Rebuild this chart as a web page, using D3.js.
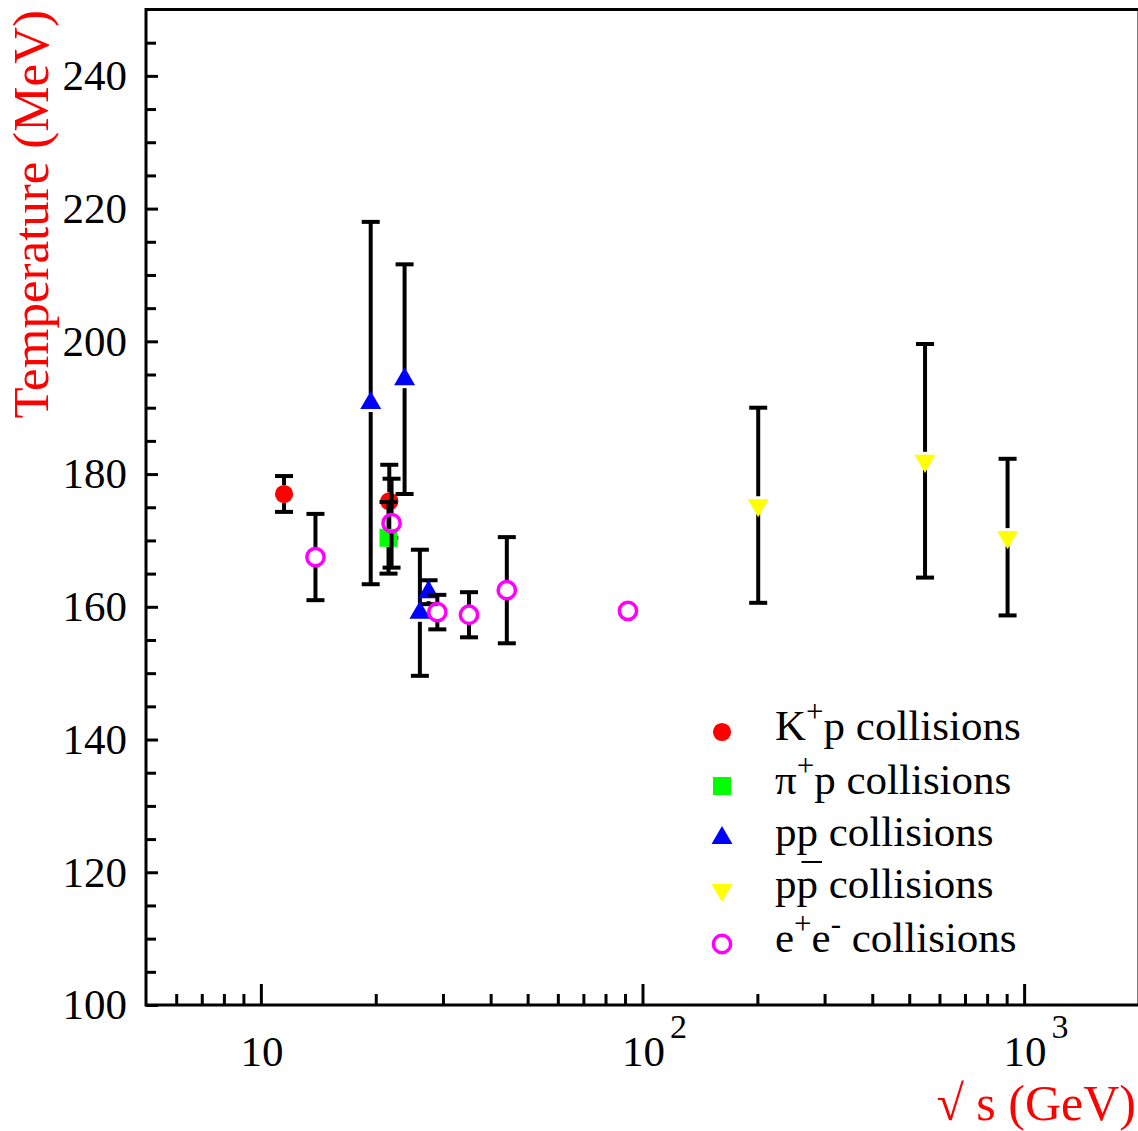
<!DOCTYPE html>
<html>
<head>
<meta charset="utf-8">
<script src="https://cdn.jsdelivr.net/npm/d3@7"></script>
<style>
  body { margin: 0; background: #fff; }
  text { font-family: "Liberation Serif", "Times New Roman", serif; }
</style>
</head>
<body>
<div id="canvas"></div>
<script>
// values
var kpX = [11.5, 21.7],
    kpY = [177.0, 175.9],
    kpErr = [2.7, 5.5];

var pipX = [21.6],
    pipY = [170.4],
    pipErr = [5.4];

var ppX = [19.4, 23.8, 26.1, 27.5],
    ppY = [190.7, 194.3, 159.1, 162.2],
    ppErr = [27.3, 17.3, 9.5, 1.8];

var pbarpX = [201, 550, 905],
    pbarpY = [175.3, 182.0, 170.5],
    pbarpErr = [14.7, 17.6, 11.8];

var eeX = [13.9, 22.0, 29.0, 35.1, 44.1, 91.6],
    eeY = [167.5, 172.6, 159.2, 158.8, 162.5, 159.4],
    eeErr = [6.5, 6.7, 2.6, 3.4, 8.0, 0];

var yMajor = [100, 120, 140, 160, 180, 200, 220, 240],
    yMinor = d3.range(105, 250, 5).filter(function(v) { return v % 20 !== 0; }),
    xMajor = [10, 100, 1000],
    xExp = ['', '2', '3'],
    xMinor = [6, 7, 8, 9, 20, 30, 40, 50, 60, 70, 80, 90, 200, 300, 400, 500, 600, 700, 800, 900];

(function(d3) {

  var canvas_d = {width: 1138, height: 1131},
      plot = {left: 146, right: 1139, top: 9.5, bottom: 1005},
      canvas, x, y;

  canvas = d3.select('#canvas').append('svg')
      .attr('width', canvas_d.width)
      .attr('height', canvas_d.height);

  x = d3.scaleLog().domain([5, 2000]).range([plot.left, plot.right]);
  y = d3.scaleLinear().domain([100, 250]).range([plot.bottom, plot.top]);

  /**
   * Axes: ticks point inwards.
   */
  var yMin = canvas.append('g').attr('transform', 'translate(' + plot.left + ',0)')
      .call(d3.axisLeft(y).tickValues(yMinor).tickSize(-10).tickFormat(''));
  var yMaj = canvas.append('g').attr('transform', 'translate(' + plot.left + ',0)')
      .call(d3.axisLeft(y).tickValues(yMajor).tickSize(-12).tickPadding(19).tickFormat(d3.format('d')));
  var xMin = canvas.append('g').attr('transform', 'translate(0,' + plot.bottom + ')')
      .call(d3.axisBottom(x).tickValues(xMinor).tickSize(-11).tickFormat(''));
  var xMaj = canvas.append('g').attr('transform', 'translate(0,' + plot.bottom + ')')
      .call(d3.axisBottom(x).tickValues(xMajor).tickSize(-21).tickPadding(30).tickFormat(function() { return ''; }));

  [yMin, yMaj, xMin, xMaj].forEach(function(g) {
    g.select('.domain').remove();
    g.selectAll('line').attr('stroke', '#000').attr('stroke-width', 3);
  });

  yMaj.selectAll('text')
      .attr('fill', '#000')
      .style('font-size', '43px');

  // 10, 10^2, 10^3 : "10" centred on the tick, exponent after it
  xMaj.selectAll('text').each(function(d, i) {
    var t = d3.select(this)
        .attr('fill', '#000')
        .attr('text-anchor', 'start')
        .attr('x', -21)
        .style('font-size', '43px');
    t.append('tspan').text('10');
    if (xExp[i]) {
      t.append('tspan').attr('dx', 5).attr('dy', -28).style('font-size', '34px').text(xExp[i]);
    }
  });

  // frame
  canvas.append('rect')
      .attr('x', plot.left)
      .attr('y', plot.top)
      .attr('width', plot.right - plot.left)
      .attr('height', plot.bottom - plot.top)
      .attr('fill', 'none')
      .attr('stroke', '#000')
      .attr('stroke-width', 3);

  /**
   * Axis titles.
   */
  canvas.append('text')
      .attr('transform', 'translate(48,10) rotate(-90)')
      .attr('text-anchor', 'end')
      .attr('fill', 'red')
      .style('font-size', '51px')
      .text('Temperature (MeV)');

  canvas.append('text')
      .attr('x', 1136)
      .attr('y', 1120)
      .attr('text-anchor', 'end')
      .attr('fill', 'red')
      .style('font-size', '50px')
      .text('\u221A s (GeV)');

  /**
   * Data series: error bars first, then markers.
   */
  var series = [
    {xs: kpX, ys: kpY, es: kpErr, shape: d3.symbolCircle, size: 260, fill: 'red'},
    {xs: pipX, ys: pipY, es: pipErr, shape: d3.symbolSquare, size: 324, fill: '#00ff00'},
    {xs: ppX, ys: ppY, es: ppErr, shape: d3.symbolTriangle, size: 190, fill: 'blue'},
    {xs: pbarpX, ys: pbarpY, es: pbarpErr, shape: d3.symbolTriangle, size: 190, fill: 'yellow', flip: true},
    {xs: eeX, ys: eeY, es: eeErr, shape: d3.symbolCircle, size: 235, stroke: '#ff00ff'}
  ];

  var half = 9, cap = 9;

  series.forEach(function(s) {
    var pts = s.xs.map(function(v, i) { return {x: v, y: s.ys[i], e: s.es[i]}; });
    var g = canvas.append('g');

    var bars = g.selectAll('g.bar')
        .data(pts.filter(function(d) { return y(d.y - d.e) - y(d.y + d.e) > 2 * half; }))
      .enter().append('g')
        .attr('class', 'bar')
        .attr('stroke', '#000')
        .attr('stroke-width', 4);

    bars.append('line')
        .attr('x1', function(d) { return x(d.x); })
        .attr('x2', function(d) { return x(d.x); })
        .attr('y1', function(d) { return y(d.y + d.e); })
        .attr('y2', function(d) { return y(d.y) - half; });
    bars.append('line')
        .attr('x1', function(d) { return x(d.x); })
        .attr('x2', function(d) { return x(d.x); })
        .attr('y1', function(d) { return y(d.y) + half; })
        .attr('y2', function(d) { return y(d.y - d.e); });
    bars.append('line')
        .attr('x1', function(d) { return x(d.x) - cap; })
        .attr('x2', function(d) { return x(d.x) + cap; })
        .attr('y1', function(d) { return y(d.y + d.e); })
        .attr('y2', function(d) { return y(d.y + d.e); });
    bars.append('line')
        .attr('x1', function(d) { return x(d.x) - cap; })
        .attr('x2', function(d) { return x(d.x) + cap; })
        .attr('y1', function(d) { return y(d.y - d.e); })
        .attr('y2', function(d) { return y(d.y - d.e); });

    g.selectAll('path.marker')
        .data(pts)
      .enter().append('path')
        .attr('class', 'marker')
        .attr('d', d3.symbol().type(s.shape).size(s.size))
        .attr('transform', function(d) {
          return 'translate(' + x(d.x) + ',' + y(d.y) + ')' + (s.flip ? ' rotate(180)' : '');
        })
        .attr('fill', s.fill || 'none')
        .attr('stroke', s.stroke || 'none')
        .attr('stroke-width', s.stroke ? 3.5 : 0);
  });

  /**
   * Legend.
   */
  var legendY = [732, 786, 838, 890, 944],
      legendText = [
        [['K', 0], ['+', 1], ['p collisions', 0]],
        [['\u03C0', 0], ['+', 1], ['p collisions', 0]],
        [['pp collisions', 0]],
        [['pp collisions', 0]],
        [['e', 0], ['+', 1], ['e', 0], ['-', 1], [' collisions', 0]]
      ];

  series.forEach(function(s, i) {
    canvas.append('path')
        .attr('d', d3.symbol().type(s.shape).size(s.size))
        .attr('transform', 'translate(722,' + legendY[i] + ')' + (s.flip ? ' rotate(180)' : ''))
        .attr('fill', s.fill || 'none')
        .attr('stroke', s.stroke || 'none')
        .attr('stroke-width', s.stroke ? 3.5 : 0);

    var t = canvas.append('text')
        .attr('x', 775)
        .attr('y', legendY[i] + 8)
        .attr('fill', '#000')
        .style('font-size', '43px');

    var shift = 0;
    legendText[i].forEach(function(part) {
      var dy = part[1] ? -18 - shift : -shift;
      shift = part[1] ? -18 : 0;
      t.append('tspan')
          .attr('dy', dy)
          .style('font-size', part[1] ? '31px' : '43px')
          .text(part[0]);
    });

    // anti-proton bar over the second p
    if (i === 3) {
      var node = t.node(),
          x0 = 775 + node.getSubStringLength(0, 1),
          w = node.getSubStringLength(1, 1);
      canvas.append('line')
          .attr('x1', x0 + 5)
          .attr('x2', x0 + w + 4)
          .attr('y1', legendY[i] - 28)
          .attr('y2', legendY[i] - 28)
          .attr('stroke', '#000')
          .attr('stroke-width', 2);
    }
  });

})(d3);
</script>
</body>
</html>
